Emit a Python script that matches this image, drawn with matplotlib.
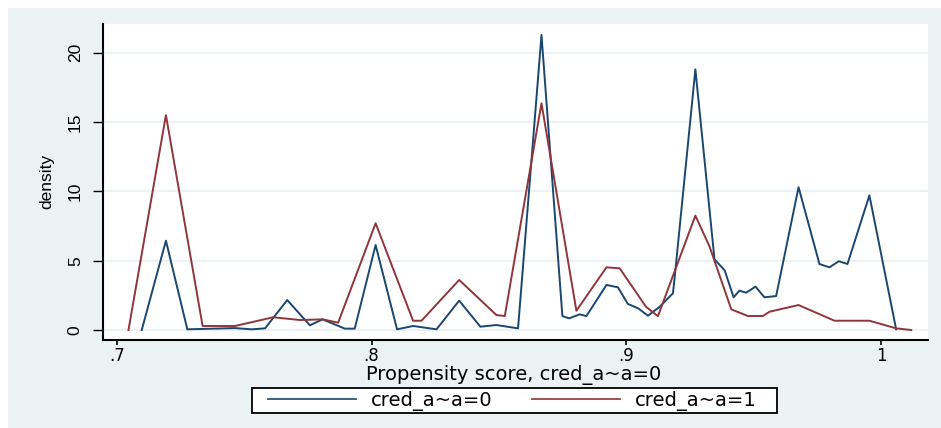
import matplotlib
matplotlib.use("Agg")
import matplotlib.pyplot as plt
from matplotlib.patches import Rectangle
from matplotlib.lines import Line2D

# ---- data ----
blue_x = [0.7098, 0.7193, 0.7277, 0.7464, 0.7530, 0.7582, 0.7669, 0.7758, 0.7808,
          0.7895, 0.7934, 0.8016, 0.8100, 0.8163, 0.8255, 0.8344, 0.8427, 0.8490,
          0.8575, 0.8667, 0.8749, 0.8775, 0.8817, 0.8843, 0.8922, 0.8967, 0.9006,
          0.9046, 0.9085, 0.9131, 0.9183, 0.9190, 0.9271, 0.9346, 0.9386, 0.9421,
          0.9444, 0.9470, 0.9507, 0.9542, 0.9588, 0.9676, 0.9758, 0.9797, 0.9834,
          0.9868, 0.9954, 1.0059]
blue_y = [0.0, 6.44, 0.05, 0.14, 0.05, 0.12, 2.16, 0.34, 0.77,
          0.10, 0.10, 6.13, 0.05, 0.29, 0.05, 2.12, 0.24, 0.36,
          0.12, 21.28, 1.01, 0.84, 1.13, 1.00, 3.25, 3.08, 1.88,
          1.57, 1.03, 1.68, 2.65, 3.84, 18.80, 5.10, 4.30, 2.36,
          2.84, 2.69, 3.13, 2.36, 2.45, 10.30, 4.76, 4.52, 4.96,
          4.76, 9.71, 0.05]

red_x = [0.7046, 0.7193, 0.7337, 0.7464, 0.7614, 0.7719, 0.7808, 0.7869, 0.8016,
         0.8163, 0.8196, 0.8344, 0.8490, 0.8523, 0.8667, 0.8804, 0.8922, 0.8974,
         0.9077, 0.9124, 0.9271, 0.9327, 0.9412, 0.9477, 0.9536, 0.9562, 0.9676,
         0.9817, 0.9954, 1.0059, 1.0118]
red_y = [0.0, 15.50, 0.29, 0.29, 0.92, 0.72, 0.77, 0.53, 7.70,
         0.67, 0.67, 3.61, 1.08, 1.01, 16.35, 1.39, 4.52, 4.45,
         1.68, 1.00, 8.25, 6.00, 1.49, 1.01, 1.01, 1.32, 1.80,
         0.67, 0.67, 0.12, 0.0]

x_ticks = [0.7, 0.8, 0.9, 1.0]
x_tick_labels = [".7", ".8", ".9", "1"]
y_ticks = [0, 5, 10, 15, 20]
y_tick_labels = ["0", "5", "10", "15", "20"]
series_labels = ["cred_a~a=0", "cred_a~a=1"]

# ---- styling ----
W, H = 941, 428
BG = "#eaf2f3"
BLUE = "#1a476f"
RED = "#90353b"

fig = plt.figure(figsize=(W / 100, H / 100), dpi=100)
fig.patch.set_facecolor("white")

def fx(px):
    return px / W

def fy(py):
    return (H - py) / H

# outer graph region
fig.add_artist(Rectangle((fx(8), 0), 1 - fx(8), fy(8), transform=fig.transFigure,
                         facecolor=BG, edgecolor="none", zorder=0))

ax = fig.add_axes([fx(103), fy(340), fx(928) - fx(103), fy(24) - fy(340)])
ax.set_facecolor("white")
ax.set_xlim(0.6946, 1.0184)
ax.set_ylim(-0.72, 22.07)

for y in y_ticks:
    ax.axhline(y, color=BG, lw=1.5, zorder=1)

ax.plot(blue_x, blue_y, color=BLUE, lw=1.4, zorder=3, label=series_labels[0])
ax.plot(red_x, red_y, color=RED, lw=1.4, zorder=3, label=series_labels[1])

for s in ["top", "right"]:
    ax.spines[s].set_visible(False)
for s in ["left", "bottom"]:
    ax.spines[s].set_color("black")
    ax.spines[s].set_linewidth(1.5)

ax.set_xticks(x_ticks)
ax.set_xticklabels(x_tick_labels)
ax.set_yticks(y_ticks)
ax.set_yticklabels(y_tick_labels)
ax.tick_params(axis="x", length=3.5, width=1.2, pad=1.5, labelsize=12,
               labelfontfamily="DejaVu Sans", colors="black")
ax.tick_params(axis="y", length=7.5, width=1.0, pad=7, labelsize=12.5,
               labelrotation=90, labelfontfamily="Liberation Sans", colors="black")
for lab in ax.get_yticklabels():
    lab.set_verticalalignment("center")

# axis titles
fig.text(fx(513.5), fy(380), "Propensity score, cred_a~a=0", ha="center",
         va="baseline", fontsize=14, family="DejaVu Sans", color="black")
fig.text(fx(47), fy(181), "density", ha="center", va="center", rotation=90,
         fontsize=12.5, family="Liberation Sans", color="black")

# legend
handles = [Line2D([], [], color=BLUE, lw=1.2), Line2D([], [], color=RED, lw=1.2)]
leg = fig.legend(handles, series_labels, loc="center",
                 bbox_to_anchor=(fx(512.4), fy(401)), ncol=2, frameon=False,
                 prop={"family": "DejaVu Sans", "size": 14},
                 handlelength=4.5, handletextpad=0.78, columnspacing=2.05,
                 borderpad=0.0)
fig.add_artist(Rectangle((fx(252), fy(413)), fx(777) - fx(252), fy(388) - fy(413),
                         transform=fig.transFigure, facecolor="white",
                         edgecolor="black", lw=1.3, zorder=1))
leg.set_zorder(2)

fig.savefig("out.png", dpi=100, facecolor="white")
